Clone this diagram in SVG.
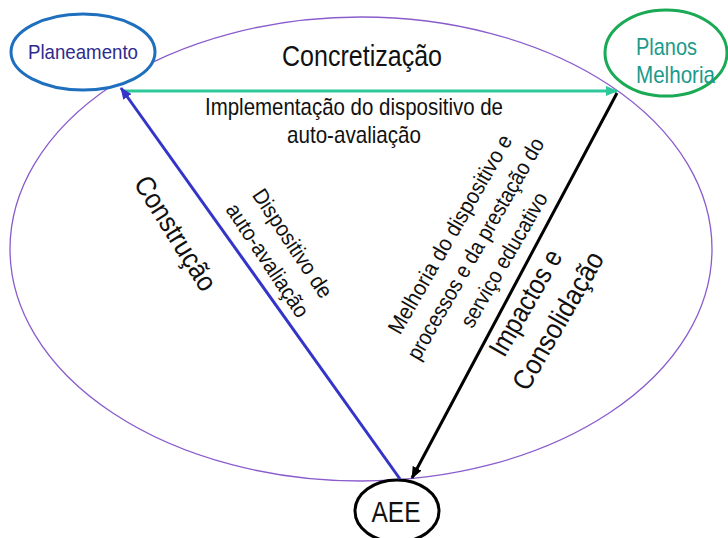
<svg xmlns="http://www.w3.org/2000/svg" width="728" height="538" viewBox="0 0 728 538">
<style>
text{font-family:"Liberation Sans",Arial,sans-serif;fill:#111}
.mid{text-anchor:middle}
.conn{fill:none;stroke-width:3}
</style>
<defs>
<marker id="ahG" markerUnits="userSpaceOnUse" markerWidth="12" markerHeight="10" refX="11" refY="5" orient="auto"><path d="M0,0 L12,5 L0,10 z" fill="#2ec89a"/></marker>
<marker id="ahB" markerUnits="userSpaceOnUse" markerWidth="12" markerHeight="10" refX="11" refY="5" orient="auto"><path d="M0,0 L12,5 L0,10 z" fill="#3434c8"/></marker>
<marker id="ahK" markerUnits="userSpaceOnUse" markerWidth="12" markerHeight="10" refX="11" refY="5" orient="auto"><path d="M0,0 L12,5 L0,10 z" fill="#000"/></marker>
</defs>
<rect width="728" height="538" fill="#fff"/>
<g id="cycle">
<ellipse cx="361" cy="249" rx="351" ry="232" fill="none" stroke="#8a5ccc" stroke-width="1.3"/>
</g>
<g id="planeamento">
<ellipse cx="83" cy="52" rx="72" ry="38" fill="#fff" stroke="#1f6fbf" stroke-width="3"/>
<text x="83" y="59" class="mid" font-size="21" textLength="110" lengthAdjust="spacingAndGlyphs" style="fill:#2e2a8e">Planeamento</text>
</g>
<g id="planos">
<ellipse cx="666" cy="53" rx="61" ry="43" fill="#fff" stroke="#1aaa55" stroke-width="3"/>
<text x="636" y="55" font-size="24" textLength="61" lengthAdjust="spacingAndGlyphs" style="fill:#1a9a8a">Planos</text>
<text x="636" y="83" font-size="24" textLength="79" lengthAdjust="spacingAndGlyphs" style="fill:#1a9a8a">Melhoria</text>
</g>
<g id="aee">
<ellipse cx="397" cy="511" rx="42" ry="31" fill="#fff" stroke="#000" stroke-width="3"/>
<text x="396" y="522" class="mid" font-size="30" textLength="49" lengthAdjust="spacingAndGlyphs">AEE</text>
</g>
<g id="connectors">
<line class="conn" x1="124" y1="91" x2="617" y2="91" stroke="#2ec89a" marker-end="url(#ahG)"/>
<line class="conn" x1="400" y1="479" x2="121" y2="88" stroke="#3434c8" marker-end="url(#ahB)"/>
<line class="conn" x1="617" y1="93" x2="412" y2="478" stroke="#000" marker-end="url(#ahK)"/>
</g>
<g id="labels">
<text x="362" y="66" class="mid" font-size="30" textLength="160" lengthAdjust="spacingAndGlyphs">Concretização</text>
<text x="354" y="115" class="mid" font-size="24" textLength="298" lengthAdjust="spacingAndGlyphs">Implementação do dispositivo de</text>
<text x="354" y="143" class="mid" font-size="24" textLength="134" lengthAdjust="spacingAndGlyphs">auto-avaliação</text>
<g transform="translate(176,233) rotate(58)"><text x="0" y="10" class="mid" font-size="28" textLength="130" lengthAdjust="spacingAndGlyphs">Construção</text></g>
<g transform="translate(293,243) rotate(56.5)"><text x="0" y="8" class="mid" font-size="22" textLength="126" lengthAdjust="spacingAndGlyphs">Dispositivo de</text></g>
<g transform="translate(268,260) rotate(56.5)"><text x="0" y="8" class="mid" font-size="22" textLength="132" lengthAdjust="spacingAndGlyphs">auto-avaliação</text></g>
<g transform="translate(449.5,234) rotate(-60)"><text x="0" y="8" class="mid" font-size="22" textLength="226" lengthAdjust="spacingAndGlyphs">Melhoria do dispositivo e</text></g>
<g transform="translate(475,248.5) rotate(-60)"><text x="0" y="8" class="mid" font-size="22" textLength="252" lengthAdjust="spacingAndGlyphs">processos e da prestação do</text></g>
<g transform="translate(503.5,259.5) rotate(-60)"><text x="0" y="8" class="mid" font-size="22" textLength="152" lengthAdjust="spacingAndGlyphs">serviço educativo</text></g>
<g transform="translate(525,302.5) rotate(-60)"><text x="0" y="10" class="mid" font-size="28" textLength="118" lengthAdjust="spacingAndGlyphs">Impactos e</text></g>
<g transform="translate(557.5,320.5) rotate(-60)"><text x="0" y="10" class="mid" font-size="28" textLength="155" lengthAdjust="spacingAndGlyphs">Consolidação</text></g>
</g>
</svg>
